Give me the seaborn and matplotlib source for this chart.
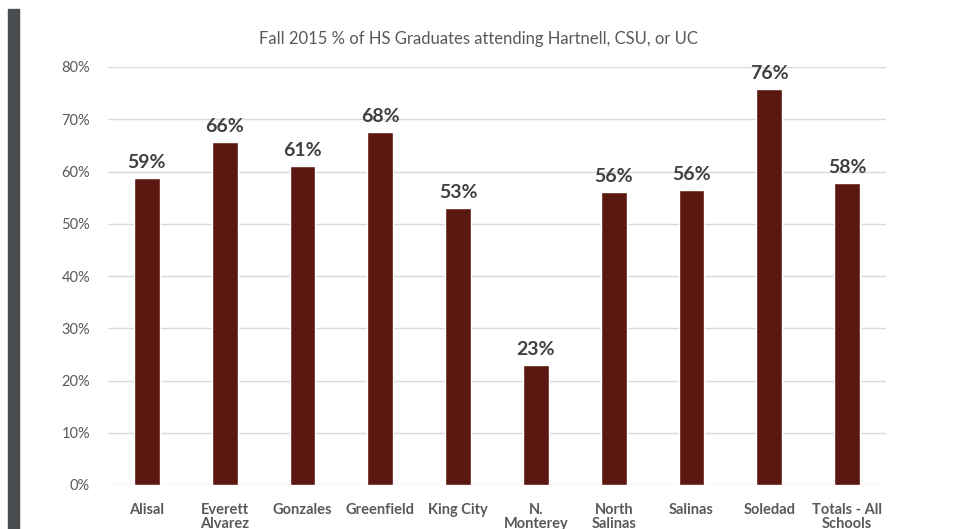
import matplotlib
matplotlib.use("Agg")
import matplotlib.pyplot as plt
import seaborn as sns
import pandas as pd
from matplotlib.patches import Rectangle
from matplotlib.ticker import PercentFormatter

schools = ["Alisal", "Everett\nAlvarez", "Gonzales", "Greenfield", "King City",
           "N.\nMonterey", "North\nSalinas", "Salinas", "Soledad", "Totals - All\nSchools"]
rates = [0.588, 0.656, 0.611, 0.676, 0.530, 0.230, 0.561, 0.565, 0.758, 0.578]
value_labels = ["59%", "66%", "61%", "68%", "53%", "23%", "56%", "56%", "76%", "58%"]

df = pd.DataFrame({"school": schools, "rate": rates})

sns.set_theme(style="white")
plt.rcParams["font.family"] = ["Lato", "DejaVu Sans"]

fig = plt.figure(figsize=(9.54, 5.29), dpi=100)
ax = fig.add_axes([108 / 954, 1 - 485 / 529, 778 / 954, 418 / 529])

sns.barplot(data=df, x="school", y="rate", color="#5b1810", width=0.33,
            saturation=1, ax=ax)

ax.set_ylim(0, 0.8)
ax.set_xlim(-0.5, 9.5)
ax.set_yticks([0, 0.1, 0.2, 0.3, 0.4, 0.5, 0.6, 0.7, 0.8])
ax.yaxis.set_major_formatter(PercentFormatter(1.0, decimals=0))
ax.grid(axis="y", color="#d9d9d9", linewidth=1)
ax.set_axisbelow(True)
for s in ax.spines.values():
    s.set_visible(False)
ax.set_xlabel("")
ax.set_ylabel("")
ax.tick_params(axis="y", length=0, pad=13, labelsize=10.5, labelcolor="#595959")
ax.tick_params(axis="x", length=0, pad=13, labelsize=10.5, labelcolor="#595959")
for t in ax.get_xticklabels():
    t.set_fontweight("bold")
    t.set_linespacing(1.0)

ax.bar_label(ax.containers[0], labels=value_labels, padding=5, fontsize=14,
             fontweight="bold", color="#404040")

fig.text(478 / 954, 1 - 39 / 529, "Fall 2015 % of HS Graduates attending Hartnell, CSU, or UC",
         ha="center", va="center", fontsize=12, color="#595959")

# dark strip on the left edge
fig.add_artist(Rectangle((8 / 954, 0), 11 / 954, 1 - 9 / 529, transform=fig.transFigure,
                         color="#4a4d50", zorder=0))

fig.savefig("out.png", dpi=100)
